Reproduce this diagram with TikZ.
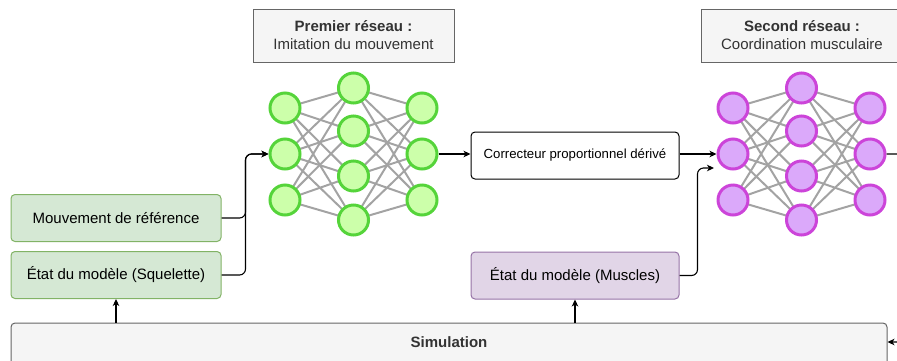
\documentclass[tikz,border=0pt]{standalone}
\usepackage{fontspec}
\setmainfont{Liberation Sans}
\usetikzlibrary{arrows.meta,calc}

\definecolor{boxgreenfill}{HTML}{D5E8D4}
\definecolor{boxgreendraw}{HTML}{82B366}
\definecolor{boxpurplefill}{HTML}{E1D5E7}
\definecolor{boxpurpledraw}{HTML}{9673A6}
\definecolor{greyfill}{HTML}{F5F5F5}
\definecolor{greydraw}{HTML}{666666}
\definecolor{titletext}{HTML}{333333}
\definecolor{neurgreenfill}{HTML}{CCFFAA}
\definecolor{neurgreendraw}{HTML}{55D43A}
\definecolor{neurpurplefill}{HTML}{DBA9FA}
\definecolor{neurpurpledraw}{HTML}{CC44D9}
\definecolor{synapse}{HTML}{A3A3A3}

\tikzset{
  x=1pt, y=-1pt,
  every node/.style={font=\fontsize{15}{18}\selectfont, inner sep=0pt},
  block/.style={draw, rounded corners=4pt, line width=1pt, minimum height=47pt, align=center},
  greenbox/.style={block, fill=boxgreenfill, draw=boxgreendraw, minimum width=210pt},
  purplebox/.style={block, fill=boxpurplefill, draw=boxpurpledraw, minimum width=208pt},
  titlebox/.style={draw=greydraw, fill=greyfill, line width=1pt, minimum width=201pt, minimum height=53pt, align=center, text=titletext},
  neuron/.style={circle, line width=3pt, minimum size=30pt},
  gneuron/.style={neuron, fill=neurgreenfill, draw=neurgreendraw},
  pneuron/.style={neuron, fill=neurpurplefill, draw=neurpurpledraw},
  link/.style={draw=synapse, line width=2pt},
  arr/.style={-{Stealth[length=7pt,width=6.5pt,inset=2pt]}, line width=1.1pt, rounded corners=6pt},
}

\begin{document}
\begin{tikzpicture}
\useasboundingbox (0,0) rectangle (897,360);

% simulation bar along the bottom
\node[draw=greydraw, fill=greyfill, rounded corners=4pt, line width=1pt,
      minimum width=876pt, minimum height=44pt] (sim) at (449,345) {};
\node[text=titletext, font=\fontsize{15}{18}\selectfont\bfseries] (simlabel) at (449,342) {Simulation};

% input blocks
\node[greenbox] (mv) at (116,218) {Mouvement de référence};
\node[greenbox] (sq) at (116,275) {État du modèle (Squelette)};
\node[purplebox] (mu) at (575,275.5) {État du modèle (Muscles)};
\node[block, fill=white, draw=black, minimum width=208pt, font=\fontsize{13.2}{16}\selectfont] (cor) at (575,155.5) {Correcteur proportionnel dérivé};

% network titles
\node[titlebox] (t1) at (353.5,35.5) {\textbf{Premier réseau :}\\Imitation du mouvement};
\node[titlebox] (t2) at (802,35.5) {\textbf{Second réseau :}\\Coordination musculaire};

% two small fully connected networks
\foreach \net/\ox/\sty in {g/285/gneuron, p/733/pneuron} {
  \foreach \i/\y in {1/108,2/154,3/200} {
    \coordinate (\net-l\i) at (\ox,\y);
    \coordinate (\net-r\i) at (\ox+137,\y);
  }
  \foreach \j/\y in {1/88,2/131,3/176,4/220} {
    \coordinate (\net-m\j) at (\ox+68.5,\y);
  }
  \foreach \i in {1,2,3} {
    \foreach \j in {1,2,3,4} {
      \draw[link] (\net-l\i) -- (\net-m\j);
      \draw[link] (\net-m\j) -- (\net-r\i);
    }
  }
  \foreach \i in {1,2,3} {
    \node[\sty] (\net-L\i) at (\net-l\i) {};
    \node[\sty] (\net-R\i) at (\net-r\i) {};
  }
  \foreach \j in {1,2,3,4} {
    \node[\sty] (\net-M\j) at (\net-m\j) {};
  }
}

% inputs of the first network
\draw[arr] (mv.east) -- ++(24,0) |- (g-L2.west);
\draw[arr] (sq.east) -- ++(24,0) |- (g-L2.west);

% first network -> PD controller -> second network
\draw[arr] (g-R2.east) -- (g-R2.east -| cor.west);
\draw[arr] (cor.east |- p-L2.west) -- (p-L2.west);
\coordinate (pin) at (714,168);
\draw[arr] (mu.east) -- ++(18,0) |- (pin);

% feedback from the simulation
\draw[arr] (sim.north -| sq.south) -- (sq.south);
\draw[arr] (sim.north -| mu.south) -- (mu.south);
\coordinate (loop) at (906,154);
\draw[arr] (p-R2.east) -- (loop) |- (simlabel -| sim.east);
\end{tikzpicture}
\end{document}
